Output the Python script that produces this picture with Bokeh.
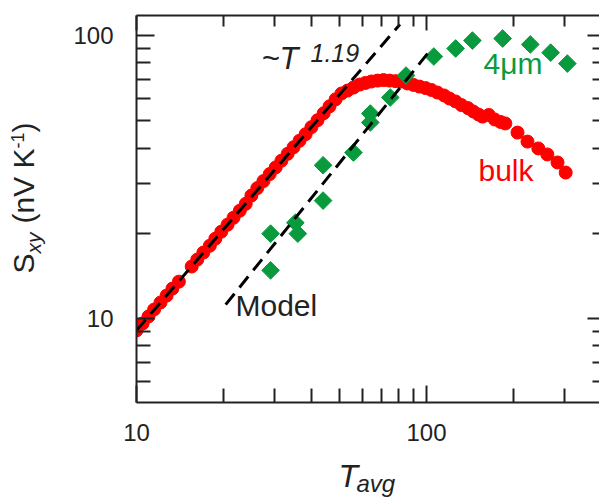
import math
from bokeh.plotting import figure
from bokeh.models import (FixedTicker, LogAxis, Label, Range1d, BasicTickFormatter,
                          CustomJSTickFormatter)
from bokeh.layouts import row, column
from bokeh.embed import file_html
from bokeh.resources import INLINE

# ---- data ----
bulk_T = [10.0, 10.5, 11.0, 11.5, 12.1, 12.7, 13.3, 14.0,
          15.5, 16.2, 17.0, 17.9, 18.7, 19.6, 20.6, 21.6, 22.7, 23.8, 24.9, 26.1,
          27.4, 28.8, 30.2, 31.6, 33.2, 34.8, 36.5, 38.3, 40.1, 42.1, 44.2, 46.3, 48.6,
          50.9, 53.4, 56.0, 58.8, 61.6, 64.6, 67.8, 71.1, 74.6, 78.2, 82.0, 86.0, 90.2,
          94.6, 99.3, 104, 109, 115, 120, 126, 132,
          139, 145, 151, 156, 164, 172, 180, 187, 206, 223, 243, 261, 283, 302]
bulk_S = [9.08, 9.61, 10.17, 10.76, 11.39, 12.05, 12.76, 13.5,
          15.27, 16.16, 17.1, 18.09, 19.15, 20.27, 21.45, 22.7, 24.03, 25.43, 27.2,
          28.9, 30.6, 32.4, 34.2, 36.1, 38.2, 40.3, 42.5, 44.83, 47.45, 50.21, 53.13,
          56.23, 59.51,
          62.4, 63.9, 65.5, 67.1, 68.0, 68.8, 69.3, 69.6, 69.3, 69.0, 68.8, 67.7, 66.9,
          66.0, 65.2, 64.2, 62.9, 61.4, 59.9, 58.5, 56.8,
          55.4, 53.9, 52.6, 51.7, 52.4, 50.5, 49.5, 48.9, 45.4, 42.2, 39.9, 38.0, 35.6, 32.8]

film_T = [29, 29, 35.3, 36, 44, 44, 56, 64, 64, 75, 85, 106, 126, 144, 183, 228, 268, 306]
film_S = [14.8, 19.95, 21.8, 19.95, 26.1, 34.8, 38.6, 49.3, 53.0, 60.4, 72.2, 84.3,
          90, 96, 97.6, 93, 87, 79.6]

fit_T = [10, 81]
fit_S = [9.08, 109.5]

model_T = [20.3, 100.8]
model_S = [11.2, 86.3]

x_major = [10, 100]
x_minor = [20, 30, 40, 50, 60, 70, 80, 90, 200, 300]
y_major = [10, 100]
y_minor = [6, 7, 8, 9, 20, 30, 40, 50, 60, 70, 80, 90]

FONT = "Liberation Sans"
INK = "#222222"
RED = "#ff0000"
GREEN = "#0a9a3e"

LEFT_W = 60      # width of the strip holding the y title
MAIN_H = 456
BOTTOM_H = 46

p = figure(x_axis_type="log", y_axis_type="log",
           x_range=Range1d(10, 395), y_range=Range1d(5.05, 117.7),
           width=599 - LEFT_W, height=MAIN_H,
           min_border_left=136 - LEFT_W, min_border_right=0, min_border_top=15,
           min_border_bottom=MAIN_H - 402,
           output_backend="svg", toolbar_location=None)
p.outline_line_color = None
p.xgrid.visible = False
p.ygrid.visible = False
p.background_fill_color = "white"
p.border_fill_color = "white"

xt = FixedTicker(ticks=x_major, minor_ticks=x_minor)
yt = FixedTicker(ticks=y_major, minor_ticks=y_minor)

def style_axis(ax, ticker, major, minor, labels=True, line=True):
    ax.ticker = ticker
    ax.major_tick_in = major
    ax.major_tick_out = 0
    ax.minor_tick_in = minor
    ax.minor_tick_out = 0
    ax.major_tick_line_color = INK
    ax.minor_tick_line_color = INK
    ax.major_tick_line_width = 2
    ax.minor_tick_line_width = 2
    ax.axis_line_color = INK if line else None
    ax.axis_line_width = 2
    if labels:
        ax.formatter = BasicTickFormatter()
        ax.major_label_text_font = FONT
        ax.major_label_text_font_size = "24px"
        ax.major_label_text_color = INK
    else:
        ax.formatter = CustomJSTickFormatter(code="return ''")
        ax.major_label_text_font_size = "1px"
        ax.major_label_standoff = 0
        ax.axis_label_standoff = 0

xa = p.xaxis[0]
ya = p.yaxis[0]
style_axis(xa, xt, 17, 14)
xa.major_label_standoff = 21
style_axis(ya, yt, 18, 14)
ya.major_label_standoff = 23

top = LogAxis()
style_axis(top, xt, 15, 11, labels=False)
p.add_layout(top, "above")
right = LogAxis()
style_axis(right, yt, 12, 7, labels=False, line=False)
p.add_layout(right, "right")

# ---- data glyphs ----
p.scatter(bulk_T, bulk_S, marker="circle", size=13, fill_color=RED, line_color=RED)
p.scatter(film_T, film_S, marker="square", angle=math.pi / 4, size=12.5,
          fill_color=GREEN, line_color=GREEN)
p.line(fit_T, fit_S, line_color="black", line_width=3, line_dash="14 8")
p.line(model_T, model_S, line_color="black", line_width=3, line_dash="14 8")

def lab(fig, text, x, y, size, color=INK, style="normal", angle=0.0):
    fig.add_layout(Label(x=x, y=y, x_units="screen", y_units="screen", text=text,
                         text_font=FONT, text_font_size=f"{size}px", text_color=color,
                         text_font_style=style, text_baseline="alphabetic",
                         text_align="left", angle=angle))

# in-plot annotations (screen units relative to the main frame)
lab(p, "~T", 125, 344, 31, style="italic")
lab(p, "1.19", 174, 350, 25, style="italic")
lab(p, "4\u03bcm", 347, 339, 30, color=GREEN)
lab(p, "bulk", 342, 232, 30, color=RED)
lab(p, "Model", 99, 97, 30)

def blank(w, h):
    f = figure(width=w, height=h, min_border=0, x_range=Range1d(0, w), y_range=Range1d(0, h),
               x_axis_location=None, y_axis_location=None,
               output_backend="svg", toolbar_location=None)
    f.outline_line_color = None
    f.grid.visible = False
    f.background_fill_color = "white"
    f.border_fill_color = "white"
    return f

# y title strip: S_xy (nV K^-1), rotated (y measured from the strip's bottom)
yf = blank(LEFT_W, MAIN_H)
A = math.pi / 2
dy = MAIN_H - 452
lab(yf, "S", 23, 125 + dy, 30, angle=A)
lab(yf, "xy", 33, 145 + dy, 21, style="italic", angle=A)
lab(yf, "(nV K", 23, 175 + dy, 30, angle=A)
lab(yf, "-1", 17, 250 + dy, 18, angle=A)
lab(yf, ")", 23, 266 + dy, 30, angle=A)

# x title strip: T_avg
xf = blank(599, BOTTOM_H)
lab(xf, "T", 338, 27, 32, style="italic")
lab(xf, "avg", 356, 19, 24, style="italic")

layout = column(row(yf, p), xf)
open("out.html", "w").write(file_html(layout, INLINE))
